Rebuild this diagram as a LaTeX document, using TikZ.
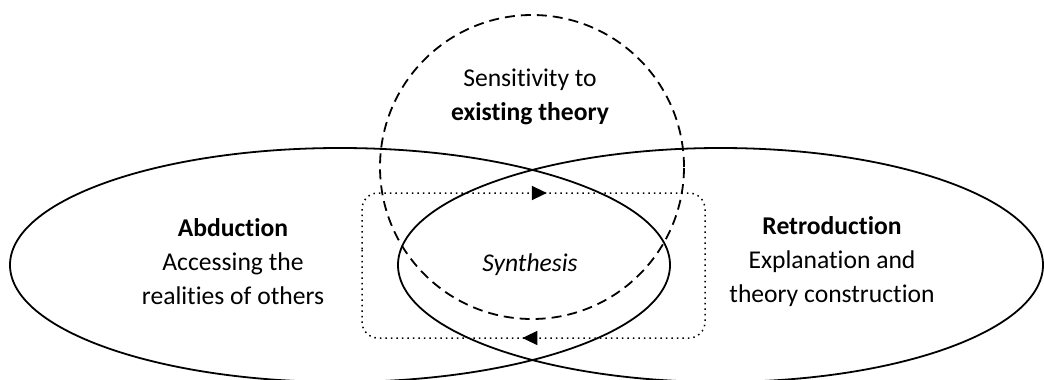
\documentclass[tikz,border=0pt]{standalone}
\usepackage{fontspec}
\setmainfont[RawFeature={-liga;-clig;-calt;-dlig}]{Carlito}
\usetikzlibrary{arrows.meta,decorations.markings}
\tikzset{
  oval/.style={line width=0.9pt},
  theorycircle/.style={line width=0.9pt,dash pattern=on 5pt off 3pt},
  loopbox/.style={line width=0.75pt,dotted,rounded corners=8pt},
  lbl/.style={align=center,inner sep=0pt,font=\fontsize{12.8}{17}\selectfont}
}
\begin{document}
\begin{tikzpicture}[x=0.5pt,y=-0.5pt]
  \useasboundingbox (0,0) rectangle (1044,380);
  \clip (0,0) rectangle (1044,380);
  \coordinate (abdc) at (340,265);
  \coordinate (retc) at (720.5,265);
  \coordinate (thc) at (532,167);
  % two big ovals, the lens between them is the synthesis
  \draw[oval] (abdc) ellipse [x radius=165pt,y radius=58.5pt];
  \draw[oval] (retc) ellipse [x radius=161.25pt,y radius=58.5pt];
  % existing theory
  \draw[theorycircle] (thc) circle [radius=76pt];
  % the loop through the synthesis
  \draw[loopbox,postaction={decorate},decoration={markings,
      mark=at position 117pt with {\arrow{Triangle[length=7.5pt,width=7pt]}},
      mark=at position 353pt with {\arrow{Triangle[length=7.5pt,width=7pt]}}}]
    (362,265) |- (705,193) |- (362,338) -- cycle;
  \node[lbl] (sens) at (530,97) {Sensitivity to\\\textbf{existing theory}};
  \node[lbl] (abd) at (233,262) {\textbf{Abduction}\\Accessing the\\realities of others};
  \node[lbl] (retro) at (832,262) {\textbf{Retroduction}\\Explanation and\\theory construction};
  \node[lbl] (synth) at (530,265) {\textit{Synthesis}};
\end{tikzpicture}
\end{document}
